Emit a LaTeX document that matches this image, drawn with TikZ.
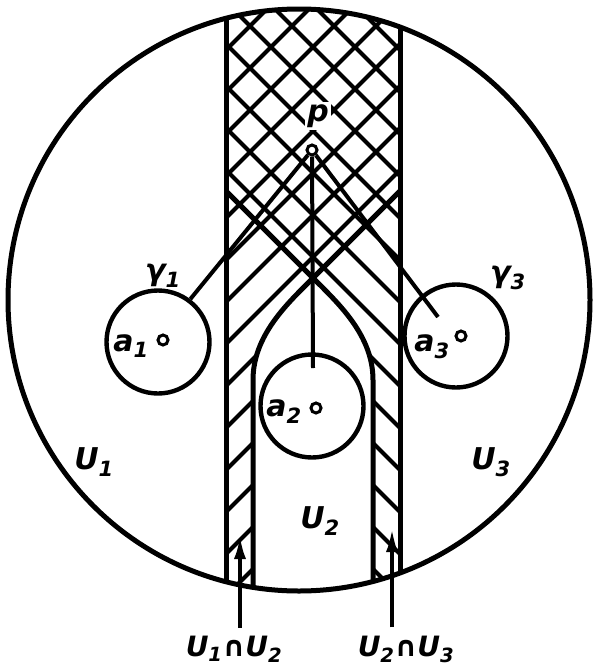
\documentclass[tikz,border=0pt]{standalone}
\usepackage{fontspec}
\setsansfont{DejaVu Sans}
\usetikzlibrary{arrows.meta}
\begin{document}
\begin{tikzpicture}[x=1pt,y=-1pt,
  thickline/.style={line width=5pt},
  hatchline/.style={line width=4pt},
  pathline/.style={line width=4pt},
  ring/.style={circle,draw,line width=4.4pt,minimum size=103pt,inner sep=0pt},
  dot/.style={circle,draw,line width=3pt,minimum size=10pt,inner sep=0pt},
  lab/.style={font=\sffamily\bfseries\itshape\fontsize{30}{30}\selectfont,inner sep=0pt},
  botlab/.style={font=\sffamily\bfseries\itshape\fontsize{28}{28}\selectfont,inner sep=0pt},
  arr/.style={line width=4pt,-{Latex[length=24pt,width=12pt]}}
]
\useasboundingbox (0,0) rectangle (595,672);

% hatching and strip boundaries
\begin{scope}
  \clip (299,300) circle[radius=291];
  \begin{scope}
    \clip (226,-10) -- (226,610) -- (253,610) -- (253,380)
      .. controls (253,335) and (288,303) .. (313,278) -- (400,191) -- (400,-10) -- cycle;
    \foreach \k in {-10,...,10} {
      \draw[hatchline] ({612+42*\k+100},-100) -- ({612+42*\k-800},800);
    }
  \end{scope}
  \begin{scope}
    \clip (400,-10) -- (400,610) -- (373,610) -- (373,380)
      .. controls (373,335) and (338,303) .. (313,278) -- (226,191) -- (226,-10) -- cycle;
    \foreach \k in {-10,...,10} {
      \draw[hatchline] (-100,{-14+42*\k-100}) -- (800,{-14+42*\k+800});
    }
  \end{scope}
  \draw[thickline] (226,-10) -- (226,610);
  \draw[thickline] (400,-10) -- (400,610);
  \draw[thickline] (253,610) -- (253,380)
      .. controls (253,335) and (288,303) .. (313,278) -- (400,191);
  \draw[thickline] (373,610) -- (373,380)
      .. controls (373,335) and (338,303) .. (313,278) -- (226,191);
\end{scope}

% big disc
\draw[thickline] (299,300) circle[radius=291];

% loops
\node[ring] (g1) at (158,342) {};
\node[ring] (g2) at (312,406) {};
\node[ring] (g3) at (456,336) {};

% base point
\node[lab,fill=white,inner sep=2pt] (plab) at (318,116) {p};
\node[dot,fill=white] (p) at (312,150) {};
\coordinate (g2end) at (313,368);
\coordinate (g3end) at (438,317);
\draw[pathline] (p) -- (g1.53);
\draw[pathline] (p) -- (g2end);
\draw[pathline] (p) -- (g3end);

% points a_i
\node[dot] (a1) at (163,340) {};
\node[dot] (a2) at (316,408) {};
\node[dot] (a3) at (461,336) {};
\node[lab] (a1lab) at (131,346) {a\textsubscript{1}};
\node[lab] (a2lab) at (284,412) {a\textsubscript{2}};
\node[lab] (a3lab) at (432,347) {a\textsubscript{3}};

% loop labels
\node[lab] (g1lab) at (163,276) {γ\textsubscript{1}};
\node[lab] (g3lab) at (508,278) {γ\textsubscript{3}};

% open sets
\node[lab] (u1) at (94,462) {U\textsubscript{1}};
\node[lab] (u2) at (320,521) {U\textsubscript{2}};
\node[lab] (u3) at (491,462) {U\textsubscript{3}};

% intersections
\node[botlab] (l12) at (234,649) {U\textsubscript{1}∩U\textsubscript{2}};
\node[botlab] (l23) at (406,649) {U\textsubscript{2}∩U\textsubscript{3}};
\coordinate (tip12) at (240,535);
\coordinate (tip23) at (392,528);
\draw[arr] (tip12 |- l12.north) ++(0,-8) -- (tip12);
\draw[arr] (tip23 |- l23.north) ++(0,-8) -- (tip23);
\end{tikzpicture}
\end{document}
